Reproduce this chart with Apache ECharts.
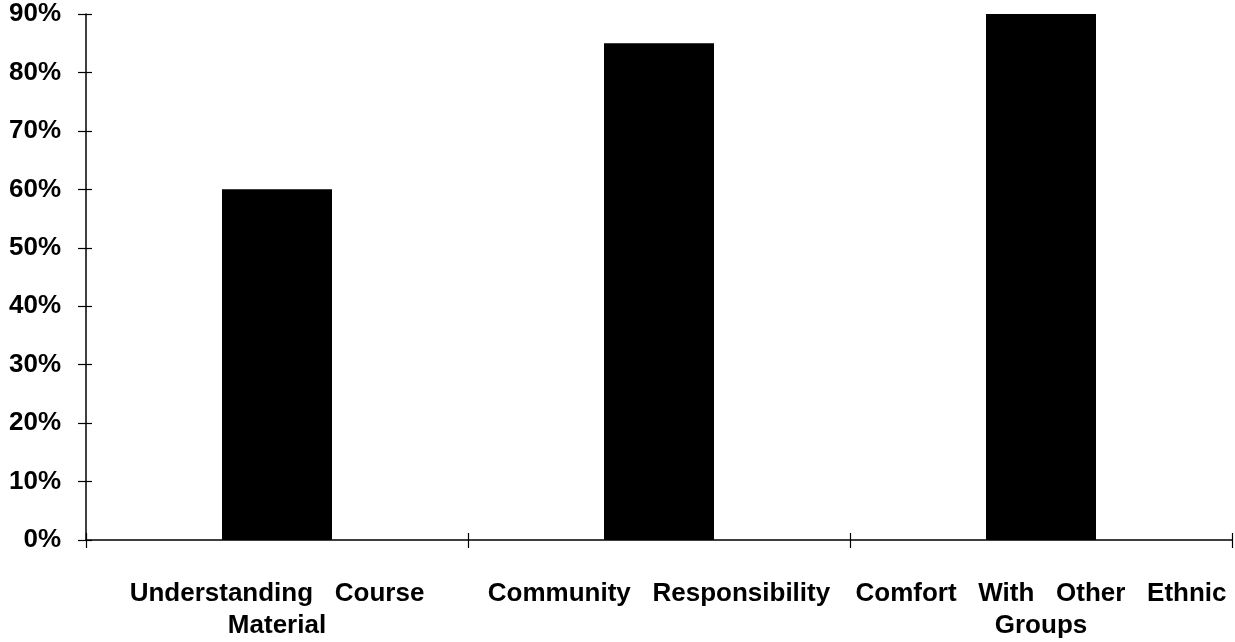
<!DOCTYPE html>
<html><head><meta charset="utf-8">
<script src="https://cdn.jsdelivr.net/npm/echarts@6/dist/echarts.min.js"></script>
<style>html,body{margin:0;padding:0;background:#fff}#c{width:1235px;height:642px}</style>
</head><body><div id="c"></div>
<script>
const categories = ["Understanding   Course\nMaterial", "Community   Responsibility", "Comfort   With   Other   Ethnic\nGroups"];
const values = [60, 85, 90];
const yTicks = [0, 10, 20, 30, 40, 50, 60, 70, 80, 90];

const font = "Liberation Sans";
const chart = echarts.init(document.getElementById('c'), null, {renderer: 'canvas'});
const baseX = {
  type: 'category', data: categories, position: 'bottom',
  axisLine: {show: true, lineStyle: {color: '#000', width: 1.5}},
  axisTick: {show: true, alignWithLabel: false, length: 8, lineStyle: {color: '#000', width: 1.2}},
  axisLabel: {show: true, interval: 0, margin: 38, color: '#000', fontFamily: font, fontWeight: 'bold', fontSize: 26, lineHeight: 32, align: 'center'},
  splitLine: {show: false}
};
const baseY = {
  type: 'value', min: 0, max: 90, interval: 10, position: 'left',
  axisLine: {show: true, lineStyle: {color: '#000', width: 1.5}},
  axisTick: {show: true, length: 8, lineStyle: {color: '#000', width: 1.2}},
  axisLabel: {show: true, margin: 25, color: '#000', fontFamily: font, fontWeight: 'bold', fontSize: 26,
    formatter: v => yTicks.includes(v) ? v + '%' : ''},
  splitLine: {show: false}
};
chart.setOption({
  animation: false,
  grid: {left: 86, right: 3, top: 14, bottom: 102, containLabel: false},
  xAxis: [baseX, Object.assign({}, baseX, {axisLine: {show: false}, axisLabel: {show: false}, axisTick: {show: true, inside: true, length: 7, lineStyle: {color: '#000', width: 1.2}}})],
  yAxis: [baseY, Object.assign({}, baseY, {axisLine: {show: false}, axisLabel: {show: false}, axisTick: {show: true, inside: true, length: 6, lineStyle: {color: '#000', width: 1.2}}})],
  series: [{
    type: 'bar', data: values, xAxisIndex: 0, yAxisIndex: 0,
    barWidth: 110, clip: false,
    itemStyle: {color: '#000'}
  }]
});
</script></body></html>
